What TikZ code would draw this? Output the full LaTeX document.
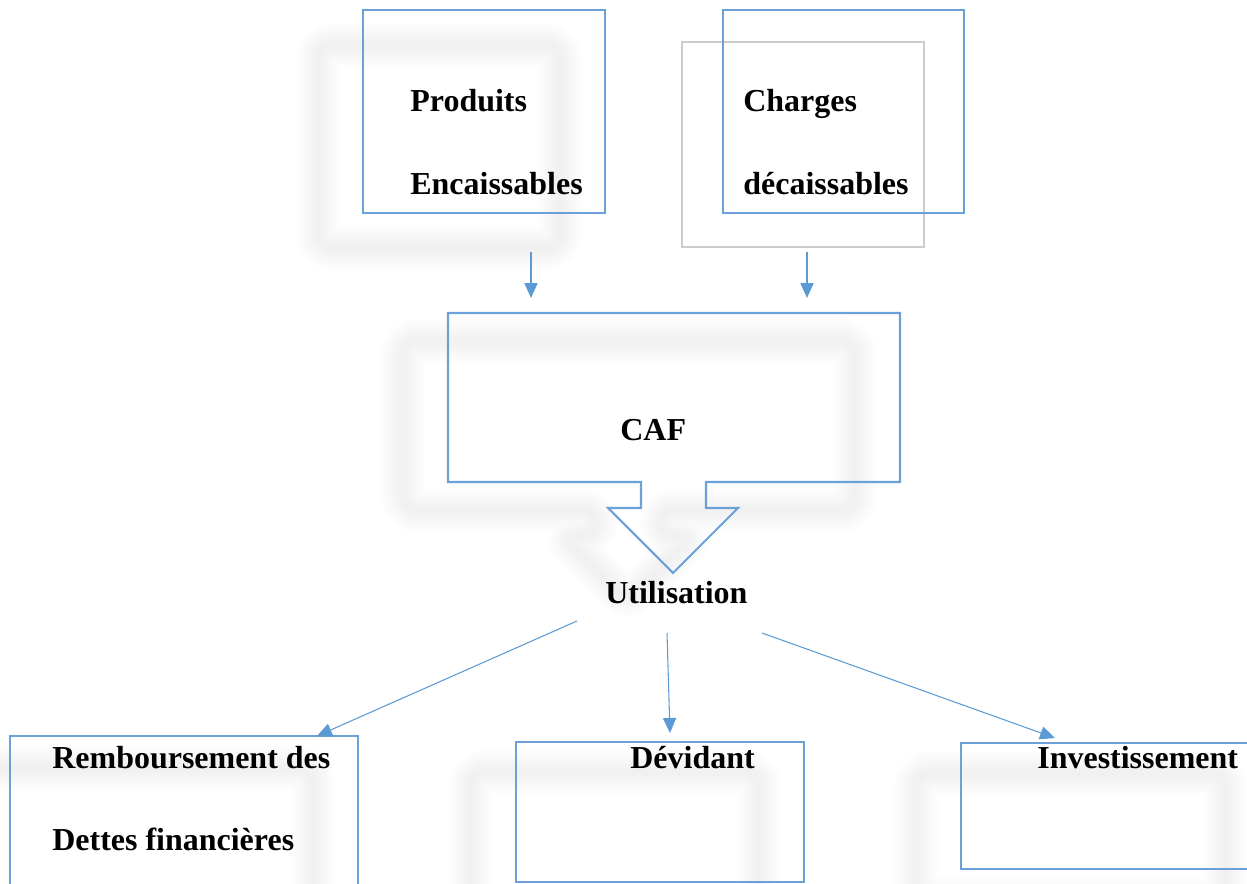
\documentclass[tikz,border=0pt]{standalone}
\usepackage{fontspec}
\setmainfont{Liberation Serif}
\usetikzlibrary{arrows.meta,fit}
\definecolor{boxblue}{RGB}{108,160,216}
\definecolor{lineblue}{RGB}{91,155,213}
\definecolor{framegray}{RGB}{204,204,204}
\newlength\pxl \setlength\pxl{0.02cm}
% soft blurred outline: several wide, faint strokes of the same path
\newcommand\softedge[1]{%
  \foreach \w in {44,38,32,26,20,14,8}{%
    \draw[haze, line width=\w\pxl, draw opacity=0.008] #1;}}
\begin{document}
\begin{tikzpicture}[x=0.02cm,y=-0.02cm,
  box/.style={draw=boxblue, line width=1.2pt, inner sep=0pt, outer sep=0pt},
  ghost/.style={draw=framegray, line width=0.9pt, inner sep=0pt, outer sep=0pt},
  txt/.style={anchor=base west, inner sep=0pt, font=\fontsize{18.2}{22}\selectfont\bfseries},
  flow/.style={draw=lineblue, line width=0.6pt, -{Triangle[length=8.5pt,width=7.5pt]}},
  haze/.style={draw=black, line join=round, rounded corners=14\pxl}]
\useasboundingbox (0,0) rectangle (1247,884);
\clip (0,0) rectangle (1247,884);

% faint shadows
\softedge{(318,45) rectangle (560,248)}
\begin{scope}[shift={(-45,28)}]
  \softedge{(448,313) -- (900,313) -- (900,482) -- (706,482) -- (706,508) -- (738,508) -- (673,573) -- (608,508) -- (641,508) -- (641,482) -- (448,482) -- cycle}
\end{scope}
\softedge{(-35,768) rectangle (313,920)}
\softedge{(471,772) rectangle (759,912)}
\softedge{(916,773) rectangle (1225,899)}

% top boxes
\node[box, fit={(363,10) (605,213)}] (prod) {};
\node[ghost, fit={(682,42) (924,247)}] (chgback) {};
\node[box, fit={(723,10) (964,213)}] (chg) {};
\node[txt] (prodA) at (410,112) {Produits};
\node[txt] (prodB) at (410,195) {Encaissables};
\node[txt] (chgA) at (743,112) {Charges};
\node[txt] (chgB) at (743,195) {décaissables};

% CAF callout
\node[inner sep=0pt, outer sep=0pt, fit={(448,313) (900,482)}] (caf) {};
\draw[box] (caf.north west) -- (caf.north east) -- (caf.south east)
  -- (706,482) -- (706,508) -- (738,508) -- (673,573) -- (608,508)
  -- (641,508) -- (641,482) -- (caf.south west) -- cycle;
\node[txt] (caftxt) at (620,441) {CAF};
\node[txt] (util) at (605,603) {Utilisation};

% arrows into CAF
\coordinate (p1) at (531,252);
\coordinate (c1) at (807,252);
\draw[flow] (p1) -- ([yshift=15\pxl]caf.north -| p1);
\draw[flow] (c1) -- ([yshift=15\pxl]caf.north -| c1);

% bottom boxes
\node[box, fit={(10,736) (358,900)}] (remb) {};
\node[box, fit={(516,742) (804,882)}] (div) {};
\node[box, fit={(961,743) (1260,869)}] (inv) {};
\node[txt] (rembA) at (52,768) {Remboursement des};
\node[txt] (rembB) at (52,850) {Dettes financières};
\node[txt] (divtxt) at (630,768) {Dévidant};
\node[txt] (invtxt) at (1037,768) {Investissement};

% arrows out of Utilisation
\coordinate (u1) at (577,621);
\coordinate (u2) at (667,633);
\coordinate (u3) at (762,633);
\coordinate (t1) at (317,736);
\coordinate (t2) at (670,733);
\coordinate (t3) at (1055,738);
\draw[flow] (u1) -- (t1);
\draw[flow] (u2) -- (t2);
\draw[flow] (u3) -- (t3);
\end{tikzpicture}
\end{document}
